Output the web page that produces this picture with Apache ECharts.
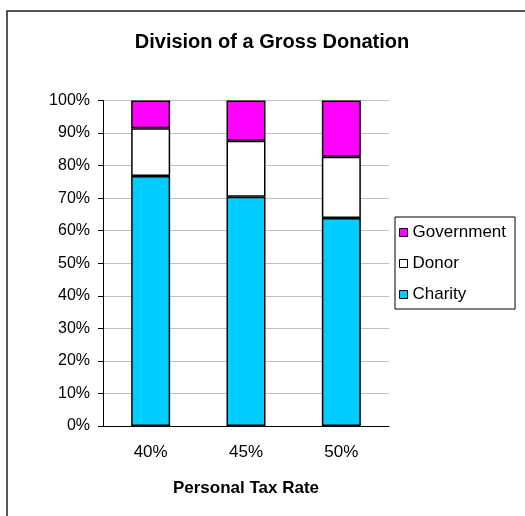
<!DOCTYPE html>
<html>
<head>
<meta charset="utf-8">
<script src="https://cdn.jsdelivr.net/npm/echarts@6/dist/echarts.min.js"></script>
<style>
	html, body { margin: 0; padding: 0; background: #fff; }
	#chart { width: 525px; height: 516px; }
</style>
</head>
<body>
<div id="chart"></div>
<script>
// 税率分类
var taxRates = ['40%', '45%', '50%'];
// 各部分占比 (%)
var charity = [76.8, 70.4, 63.9];
var donor = [14.7, 17.2, 18.8];
var government = [8.5, 12.4, 17.3];

var myChart = echarts.init(document.getElementById('chart'));
var font = 'Liberation Sans, Arial, sans-serif';
var option = {
	animation: false,
	title: {
		text: 'Division of a Gross Donation',
		left: 267,
		top: 27,
		textAlign: 'center',
		textStyle: { fontFamily: font, fontSize: 20, fontWeight: 'bold', color: '#000' }
	},
	graphic: [{
		type: 'rect', // 外框
		shape: { x: 7, y: 11, width: 540, height: 540 },
		style: { fill: 'none', stroke: '#222', lineWidth: 1.5 }
	}],
	legend: {
		orient: 'vertical',
		left: 395,
		top: 217,
		data: ['Government', 'Donor', 'Charity'],
		icon: 'rect',
		itemWidth: 8,
		itemHeight: 8,
		itemGap: 14,
		padding: [7, 9, 6, 4],
		borderColor: '#000',
		borderWidth: 1,
		itemStyle: { borderColor: '#000', borderWidth: 1 },
		textStyle: { fontFamily: font, fontSize: 17, color: '#000' }
	},
	grid: { left: 103, right: 136, top: 100.5, bottom: 90 },
	xAxis: {
		type: 'category',
		data: taxRates,
		name: 'Personal Tax Rate',
		nameLocation: 'middle',
		nameGap: 54,
		nameTextStyle: { fontFamily: font, fontSize: 17, fontWeight: 'bold', color: '#000' },
		axisLine: { lineStyle: { color: '#000', width: 1 } },
		axisTick: { length: 5, lineStyle: { color: '#000' } },
		axisLabel: { fontFamily: font, fontSize: 17, color: '#000', margin: 18 }
	},
	yAxis: {
		type: 'value',
		min: 0,
		max: 100,
		interval: 10,
		axisLine: { show: true, lineStyle: { color: '#000', width: 1 } },
		axisTick: { show: true, length: 5, lineStyle: { color: '#000' } },
		axisLabel: { formatter: '{value}%', fontFamily: font, fontSize: 16, color: '#000', margin: 13 },
		splitLine: { lineStyle: { color: '#c0c0c0', width: 1 } }
	},
	series: [{
		name: 'Charity',
		type: 'bar',
		stack: 'total',
		barWidth: 39,
		data: charity,
		itemStyle: { color: '#00ccff', borderColor: '#000', borderWidth: 1.5 }
	}, {
		name: 'Donor',
		type: 'bar',
		stack: 'total',
		barWidth: 39,
		data: donor,
		itemStyle: { color: '#ffffff', borderColor: '#000', borderWidth: 1.5 }
	}, {
		name: 'Government',
		type: 'bar',
		stack: 'total',
		barWidth: 39,
		data: government,
		itemStyle: { color: '#ff00ff', borderColor: '#000', borderWidth: 1.5 }
	}]
};
myChart.setOption(option);
</script>
</body>
</html>
